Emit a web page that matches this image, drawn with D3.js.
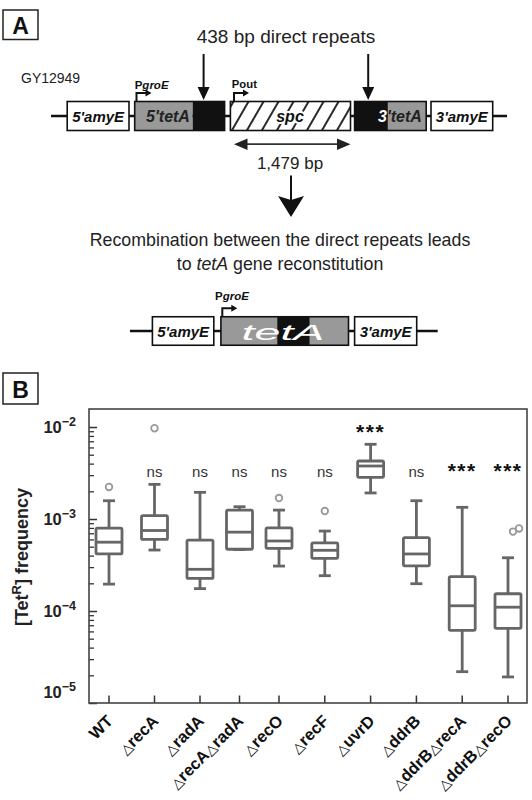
<!DOCTYPE html>
<html><head><meta charset="utf-8">
<script src="https://cdn.jsdelivr.net/npm/d3@7"></script>
<style>
body{margin:0;background:#fff}
svg{display:block}
text{font-family:"Liberation Sans",Arial,Helvetica,sans-serif}
</style>
</head><body>
<svg id="c" width="532" height="800"></svg>
<script>
// ---------- data (panel B) ----------
const categories = ["WT","ΔrecA","ΔradA","ΔrecAΔradA","ΔrecO","ΔrecF","ΔuvrD","ΔddrB","ΔddrBΔrecA","ΔddrBΔrecO"];
const whiskerLow  = [1.96e-4, 4.6e-4, 1.75e-4, 4.65e-4, 3.08e-4, 2.42e-4, 1.92e-3, 1.98e-4, 2.19e-5, 1.92e-5];
const q1          = [4.17e-4, 6.0e-4, 2.26e-4, 4.69e-4, 4.8e-4, 3.74e-4, 2.84e-3, 3.1e-4, 6.17e-5, 6.49e-5];
const median      = [5.6e-4, 7.5e-4, 2.84e-4, 7.2e-4, 5.77e-4, 4.57e-4, 3.77e-3, 4.17e-4, 1.14e-4, 1.1e-4];
const q3          = [7.98e-4, 1.09e-3, 5.9e-4, 1.25e-3, 8.0e-4, 5.5e-4, 4.27e-3, 6.27e-4, 2.36e-4, 1.54e-4];
const whiskerHigh = [1.58e-3, 2.38e-3, 1.95e-3, 1.36e-3, 1.25e-3, 7.4e-4, 6.49e-3, 1.58e-3, 1.34e-3, 3.79e-4];
const outliers    = [[2.23e-3],[9.7e-3],[],[],[1.69e-3],[1.22e-3],[],[],[],[7.3e-4,7.9e-4]];
const significance = ["","ns","ns","ns","ns","ns","***","ns","***","***"];
const yMajorTicks = [1e-5,1e-4,1e-3,1e-2];
const yTickExponents = ["-5","-4","-3","-2"];

const svg = d3.select("#c");

// ---------- panel labels ----------
function panelLabel(txt, x0, y0, x1, y1){
  svg.append("rect").attr("x",x0).attr("y",y0).attr("width",x1-x0).attr("height",y1-y0)
    .attr("fill","none").attr("stroke","#222").attr("stroke-width",1.5);
  svg.append("text").attr("x",(x0+x1)/2).attr("y",y1-6).attr("text-anchor","middle")
    .attr("font-size",23).attr("font-weight","bold").attr("fill","#111").text(txt);
}
panelLabel("A",3,10,38,39.5);
panelLabel("B",3,373,38,404);

// ---------- panel A ----------
const defs = svg.append("defs");
const pat = defs.append("pattern").attr("id","hatch").attr("patternUnits","userSpaceOnUse")
  .attr("width",13).attr("height",13).attr("patternTransform","rotate(30)");
pat.append("rect").attr("width",13).attr("height",13).attr("fill","#fff");
pat.append("line").attr("x1",6).attr("y1",-1).attr("x2",6).attr("y2",14).attr("stroke","#111").attr("stroke-width",1.8);

const gA = svg.append("g");
gA.append("text").attr("x",286).attr("y",42.5).attr("text-anchor","middle").attr("font-size",19).attr("fill","#222").text("438 bp direct repeats");
gA.append("text").attr("x",21).attr("y",82.5).attr("font-size",14).attr("fill","#222").text("GY12949");

function arrowDown(g,x,y0,y1){
  g.append("line").attr("x1",x).attr("x2",x).attr("y1",y0).attr("y2",y1-10).attr("stroke","#111").attr("stroke-width",2);
  g.append("path").attr("d",`M${x-6},${y1-13}L${x+6},${y1-13}L${x},${y1}Z`).attr("fill","#111");
}
function promoter(g,x,yBase,label){
  g.append("path").attr("d",`M${x},${yBase}V${yBase-8.5}H${x+10}`).attr("fill","none").attr("stroke","#111").attr("stroke-width",2);
  g.append("path").attr("d",`M${x+9},${yBase-12}L${x+15},${yBase-8.5}L${x+9},${yBase-5}Z`).attr("fill","#111");
}
function construct(g, yc, h, lineX0, lineX1, segs){
  g.append("line").attr("x1",lineX0).attr("x2",lineX1).attr("y1",yc).attr("y2",yc).attr("stroke","#111").attr("stroke-width",2.5);
  segs.forEach(s=>{
    g.append("rect").attr("x",s.x0).attr("y",yc-h/2).attr("width",s.x1-s.x0).attr("height",h)
      .attr("fill",s.fill).attr("stroke","none");
  });
}
function outline(g,x0,x1,yc,h){
  g.append("rect").attr("x",x0).attr("y",yc-h/2).attr("width",x1-x0).attr("height",h)
    .attr("fill","none").attr("stroke","#111").attr("stroke-width",1.6);
}
function boxText(g,x,y,parts,size){
  const t=g.append("text").attr("x",x).attr("y",y).attr("text-anchor","middle").attr("font-size",size)
    .attr("font-weight","bold").attr("font-style","italic");
  parts.forEach(p=>t.append("tspan").attr("fill",p[1]).text(p[0]));
  return t;
}

// top construct
const yc1 = 116, h1 = 29;
construct(gA, yc1, h1, 51, 507, [
  {x0:67.2,x1:129,fill:"#fff"},
  {x0:134.7,x1:192.7,fill:"#999"},
  {x0:192.7,x1:224.6,fill:"#111"},
  {x0:230.4,x1:350.5,fill:"url(#hatch)"},
  {x0:354.6,x1:387.9,fill:"#111"},
  {x0:387.9,x1:426.2,fill:"#999"},
  {x0:431,x1:492.7,fill:"#fff"}
]);
outline(gA,67.2,129,yc1,h1); outline(gA,134.7,224.6,yc1,h1); outline(gA,230.4,350.5,yc1,h1);
outline(gA,354.6,426.2,yc1,h1); outline(gA,431,492.7,yc1,h1);
boxText(gA,98.1,yc1+5.5,[["5'amyE","#111"]],15);
boxText(gA,168,yc1+5.5,[["5'tetA","#222"]],16);
boxText(gA,290,yc1+5.5,[["spc","#111"]],16).attr("stroke","#fff").attr("stroke-width",4).attr("paint-order","stroke");
boxText(gA,400,yc1+5.5,[["3","#fff"],["'tetA","#222"]],16);
boxText(gA,461.8,yc1+5.5,[["3'amyE","#111"]],15);

promoter(gA,136.5,yc1-h1/2,"");
promoter(gA,234,yc1-h1/2,"");
gA.append("text").attr("x",134.7).attr("y",89).attr("font-size",11.5).attr("font-weight","bold").attr("fill","#111")
  .call(t=>{t.append("tspan").text("P");t.append("tspan").attr("font-style","italic").text("groE");});
gA.append("text").attr("x",231.8).attr("y",87.5).attr("font-size",11.3).attr("font-weight","bold").attr("fill","#111").text("Pout");

arrowDown(gA,203.6,54,100);
arrowDown(gA,368.2,54,100);

// double arrow
gA.append("line").attr("x1",244).attr("x2",340).attr("y1",144.2).attr("y2",144.2).attr("stroke","#333").attr("stroke-width",1.8);
gA.append("path").attr("d","M234,144.2L247.5,138.4L247.5,150Z").attr("fill","#222");
gA.append("path").attr("d","M350.5,144.2L337,138.4L337,150Z").attr("fill","#222");
gA.append("text").attr("x",290).attr("y",168.6).attr("text-anchor","middle").attr("font-size",17).attr("fill","#222").text("1,479 bp");

// big arrow
gA.append("line").attr("x1",291).attr("x2",291).attr("y1",175.5).attr("y2",205).attr("stroke","#111").attr("stroke-width",2);
gA.append("path").attr("d","M278,196L291,200L304,196L291,217Z").attr("fill","#111");

gA.append("text").attr("x",280).attr("y",246).attr("text-anchor","middle").attr("font-size",17.8).attr("fill","#222")
  .text("Recombination between the direct repeats leads");
gA.append("text").attr("x",280).attr("y",270).attr("text-anchor","middle").attr("font-size",17.8).attr("fill","#222")
  .call(t=>{t.append("tspan").text("to ");t.append("tspan").attr("font-style","italic").text("tetA");t.append("tspan").text(" gene reconstitution");});

// bottom construct
const yc2 = 331, h2 = 28.5;
construct(gA, yc2, h2, 130, 437.7, [
  {x0:152.4,x1:213.8,fill:"#fff"},
  {x0:220.9,x1:277.2,fill:"#999"},
  {x0:277.2,x1:309.8,fill:"#111"},
  {x0:309.8,x1:348.5,fill:"#999"},
  {x0:354.6,x1:416.7,fill:"#fff"}
]);
outline(gA,152.4,213.8,yc2,h2); outline(gA,220.9,348.5,yc2,h2); outline(gA,354.6,416.7,yc2,h2);
boxText(gA,183.1,yc2+5.5,[["5'amyE","#111"]],15);
boxText(gA,385.6,yc2+5.5,[["3'amyE","#111"]],15);
gA.append("text").attr("x",283).attr("y",339.5).attr("text-anchor","middle")
  .attr("font-family","'DejaVu Sans',sans-serif").attr("font-style","italic").attr("font-size",22)
  .attr("fill","#fff").attr("textLength",83).attr("lengthAdjust","spacingAndGlyphs").text("tetA");
promoter(gA,222.3,yc2-h2/2,"");
gA.append("text").attr("x",215.1).attr("y",300).attr("font-size",11.5).attr("font-weight","bold").attr("fill","#111")
  .call(t=>{t.append("tspan").text("P");t.append("tspan").attr("font-style","italic").text("groE");});

// ---------- panel B ----------
const m = {left:89, right:527, top:409, bottom:703};
const y = d3.scaleLog().domain([1e-5, 0.0157]).range([m.bottom, m.top]);
const xi = d3.scaleLinear().domain([0,2,4,9]).range([109,200,279,508]);
const x = c => xi(categories.indexOf(c));
const gB = svg.append("g");
const boxColor = "#666", boxW = 26, capW = 12;

// minor ticks
const minorTicks = [];
for (let e=-5; e<=-2; e++) for (let k=2;k<=9;k++){ const v=k*Math.pow(10,e); if (v<=y.domain()[1]) minorTicks.push(v); }
gB.append("g").attr("transform",`translate(${m.left},0)`)
  .call(d3.axisRight(y).tickValues(minorTicks).tickSize(5).tickFormat(""))
  .call(g=>g.select(".domain").remove())
  .call(g=>g.selectAll("line").attr("stroke","#333").attr("stroke-width",1.3));
gB.append("g").attr("transform",`translate(${m.left},0)`)
  .call(d3.axisRight(y).tickValues(yMajorTicks).tickSize(8).tickFormat(""))
  .call(g=>g.select(".domain").remove())
  .call(g=>g.selectAll("line").attr("stroke","#333").attr("stroke-width",1.5));
// x ticks (inward)
gB.append("g").attr("transform",`translate(0,${m.bottom})`)
  .call(d3.axisTop(d3.scalePoint().domain(categories).range([0,1])).tickValues(categories).tickSize(0).tickFormat(""))
  .call(g=>g.remove());
gB.selectAll(".xt").data(categories).join("line").attr("class","xt")
  .attr("x1",d=>x(d)).attr("x2",d=>x(d)).attr("y1",m.bottom).attr("y2",m.bottom-7.5)
  .attr("stroke","#333").attr("stroke-width",1.5);

// frame
gB.append("rect").attr("x",m.left).attr("y",m.top).attr("width",m.right-m.left).attr("height",m.bottom-m.top)
  .attr("fill","none").attr("stroke","#444").attr("stroke-width",1.6);

// y tick labels
yMajorTicks.forEach((v,i)=>{
  const yy = Math.min(y(v)+6, m.bottom-5);
  const t = gB.append("text").attr("x",76).attr("y",yy).attr("text-anchor","end")
    .attr("font-size",16.5).attr("font-weight","bold").attr("fill","#222");
  t.append("tspan").text("10");
  t.append("tspan").attr("font-size",12.5).attr("dy",-7).text(yTickExponents[i].replace("-","\u2212"));
});
// y title
gB.append("text").attr("transform",`translate(28,557) rotate(-90)`).attr("text-anchor","middle")
  .attr("font-size",18).attr("font-weight","bold").attr("fill","#222")
  .call(t=>{
    t.append("tspan").text("[Tet");
    t.append("tspan").attr("font-size",13).attr("dy",-7).text("R");
    t.append("tspan").attr("dy",7).text("] frequency");
  });

// x labels
categories.forEach(c=>{
  const t = gB.append("text").attr("transform",`translate(${x(c)+5},${m.bottom+19}) rotate(-45)`)
    .attr("text-anchor","end").attr("font-size",16.5).attr("font-weight","bold").attr("fill","#111");
  c.split(/(Δ)/).filter(s=>s.length).forEach(s=>{
    if (s==="Δ") t.append("tspan").attr("font-weight","normal").attr("font-family","'DejaVu Sans',sans-serif").attr("font-size",14).text("\u25B3");
    else t.append("tspan").text(s);
  });
});

// boxes
const boxes = gB.selectAll(".box").data(categories).join("g").attr("class","box");
boxes.append("line").attr("x1",d=>x(d)).attr("x2",d=>x(d))
  .attr("y1",(d,i)=>y(whiskerHigh[i])).attr("y2",(d,i)=>y(q3[i])).attr("stroke",boxColor).attr("stroke-width",2.8);
boxes.append("line").attr("x1",d=>x(d)).attr("x2",d=>x(d))
  .attr("y1",(d,i)=>y(q1[i])).attr("y2",(d,i)=>y(whiskerLow[i])).attr("stroke",boxColor).attr("stroke-width",2.8);
boxes.append("line").attr("x1",d=>x(d)-capW/2).attr("x2",d=>x(d)+capW/2)
  .attr("y1",(d,i)=>y(whiskerHigh[i])).attr("y2",(d,i)=>y(whiskerHigh[i])).attr("stroke",boxColor).attr("stroke-width",2.8);
boxes.append("line").attr("x1",d=>x(d)-capW/2).attr("x2",d=>x(d)+capW/2)
  .attr("y1",(d,i)=>y(whiskerLow[i])).attr("y2",(d,i)=>y(whiskerLow[i])).attr("stroke",boxColor).attr("stroke-width",2.8);
boxes.append("rect").attr("x",d=>x(d)-boxW/2).attr("width",boxW)
  .attr("y",(d,i)=>y(q3[i])).attr("height",(d,i)=>y(q1[i])-y(q3[i]))
  .attr("fill","#fff").attr("stroke",boxColor).attr("stroke-width",2.8).attr("rx",1.5);
boxes.append("line").attr("x1",d=>x(d)-boxW/2).attr("x2",d=>x(d)+boxW/2)
  .attr("y1",(d,i)=>y(median[i])).attr("y2",(d,i)=>y(median[i])).attr("stroke",boxColor).attr("stroke-width",2.8);

// outliers
categories.forEach((c,i)=>{
  const n = outliers[i].length;
  outliers[i].forEach((v,j)=>{
    gB.append("circle").attr("cx",x(c)+(n>1?5+j*6:0)).attr("cy",y(v)).attr("r",3.3)
      .attr("fill","none").attr("stroke","#999").attr("stroke-width",1.8);
  });
});

// significance
categories.forEach((c,i)=>{
  if (!significance[i]) return;
  const base = Math.min(477, y(whiskerHigh[i])-6);
  const isStar = significance[i]==="***";
  gB.append("text").attr("x",x(c)).attr("y",isStar?base+1:base).attr("text-anchor","middle")
    .attr("font-size",isStar?21:15).attr("font-weight",isStar?"bold":"normal")
    .attr("letter-spacing",isStar?1.5:0).attr("fill",isStar?"#111":"#333").text(significance[i]);
});
</script>
</body></html>
